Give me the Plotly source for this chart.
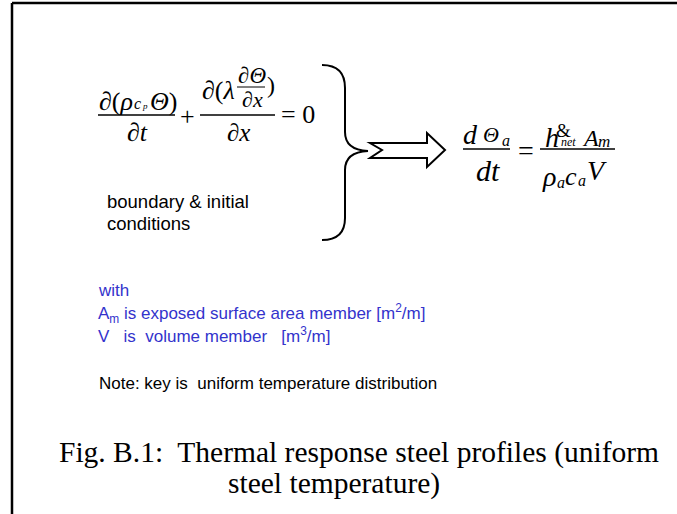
import plotly.graph_objects as go

# text content of the figure
BOUNDARY_LINES = ["boundary & initial", "conditions"]
WITH_LINES = ["with",
              "A<sub>m</sub> is exposed surface area member [m<sup>2</sup>/m]",
              "V   is  volume member   [m<sup>3</sup>/m]"]
NOTE_TEXT = "Note: key is  uniform temperature distribution"
CAPTION_LINES = ["Fig. B.1:  Thermal response steel profiles (uniform",
                 "steel temperature)"]

W, H = 677, 514
SERIF = "Liberation Serif, Times New Roman, serif"
SANS = "Liberation Sans, Arial, sans-serif"
BLUE = "#3333cc"

fig = go.Figure()


def txt(text, x, y, size, family=SERIF, color="black", xanchor="center"):
    fig.add_annotation(x=x, y=y, text=text, showarrow=False, xanchor=xanchor,
                       yanchor="middle", font=dict(size=size, family=family, color=color))


def line(x0, y0, x1, y1, width=1.5):
    fig.add_shape(type="line", x0=x0, y0=y0, x1=x1, y1=y1,
                  line=dict(color="black", width=width))


# outer frame (top and left edges visible)
line(12, 3, W, 3, width=2.5)
line(12, 3, 12, H, width=2.5)

# --- heat equation ---
txt("∂(<i>ρ</i>", 97, 101, 26, xanchor="left")
txt("<i>c</i>", 137, 103, 16)
txt("<i>p</i>", 145, 106, 9)
txt("<i>Θ</i>)", 148, 101, 26, xanchor="left")
line(98, 115, 175, 115)
txt("∂<i>t</i>", 137, 132, 26)
txt("+", 187, 116, 26)
txt("∂(<i>λ</i>", 200, 90, 26, xanchor="left")
txt("∂<i>Θ</i>", 252, 75, 23)
line(237, 87, 265, 87, 1)
txt("∂<i>x</i>", 252, 99, 22)
txt(")", 271, 85, 24)
line(200, 115, 275, 115)
txt("∂<i>x</i>", 238, 132, 25)
txt("= 0", 279, 114, 26, xanchor="left")

# boundary text
for i, s in enumerate(BOUNDARY_LINES):
    txt(s, 105, 201 + 22 * i, 18.5, family=SANS, xanchor="left")

# curly brace
fig.add_shape(type="path",
              path="M 322 65 Q 345 65 345 88 L 345 132 Q 345 150 368 151 "
                   "Q 345 152 345 170 L 345 218 Q 345 240 322 240",
              line=dict(color="black", width=2))

# hollow arrow
fig.add_shape(type="path",
              path="M 370 143 L 427 143 L 427 133 L 445 150 L 427 167 "
                   "L 427 158 L 370 158 L 382 150 Z",
              line=dict(color="black", width=2), fillcolor="white")

# --- lumped steel equation ---
txt("<i>d</i>", 470, 134, 28)
txt("<i>Θ</i>", 491, 134, 22)
txt("<i>a</i>", 506, 140, 16)
line(463, 149, 510, 149)
txt("<i>dt</i>", 488, 170, 30)
txt("=", 526, 150, 28)
line(540, 149, 615, 149)
txt("<i>h</i>", 552, 137, 28)
txt("&", 563, 130, 19)
txt("<i>net</i>", 568, 142, 12)
txt("<i>A</i>", 590, 138, 24)
txt("<i>m</i>", 604, 141, 17)
txt("<i>ρ</i>", 549, 176, 28)
txt("<i>a</i>", 561, 182, 16)
txt("<i>c</i>", 571, 176, 26)
txt("<i>a</i>", 582, 180, 16)
txt("<i>V</i>", 597, 170, 28)

# notes in blue
for s, y in zip(WITH_LINES, [290, 313, 335]):
    txt(s, 96, y, 17, family=SANS, color=BLUE, xanchor="left")

txt(NOTE_TEXT, 97, 383, 17, family=SANS, xanchor="left")

# caption
txt(CAPTION_LINES[0], 57, 452, 29.5, xanchor="left")
txt(CAPTION_LINES[1], 226, 483, 29.5, xanchor="left")

fig.update_layout(
    width=W, height=H,
    margin=dict(l=0, r=0, t=0, b=0),
    plot_bgcolor="white", paper_bgcolor="white",
    xaxis=dict(range=[0, W], visible=False, fixedrange=True),
    yaxis=dict(range=[H, 0], visible=False, fixedrange=True),
    showlegend=False,
)

fig.write_html("out.html", config={"displayModeBar": False},
               post_script="document.body.style.margin='0';")
